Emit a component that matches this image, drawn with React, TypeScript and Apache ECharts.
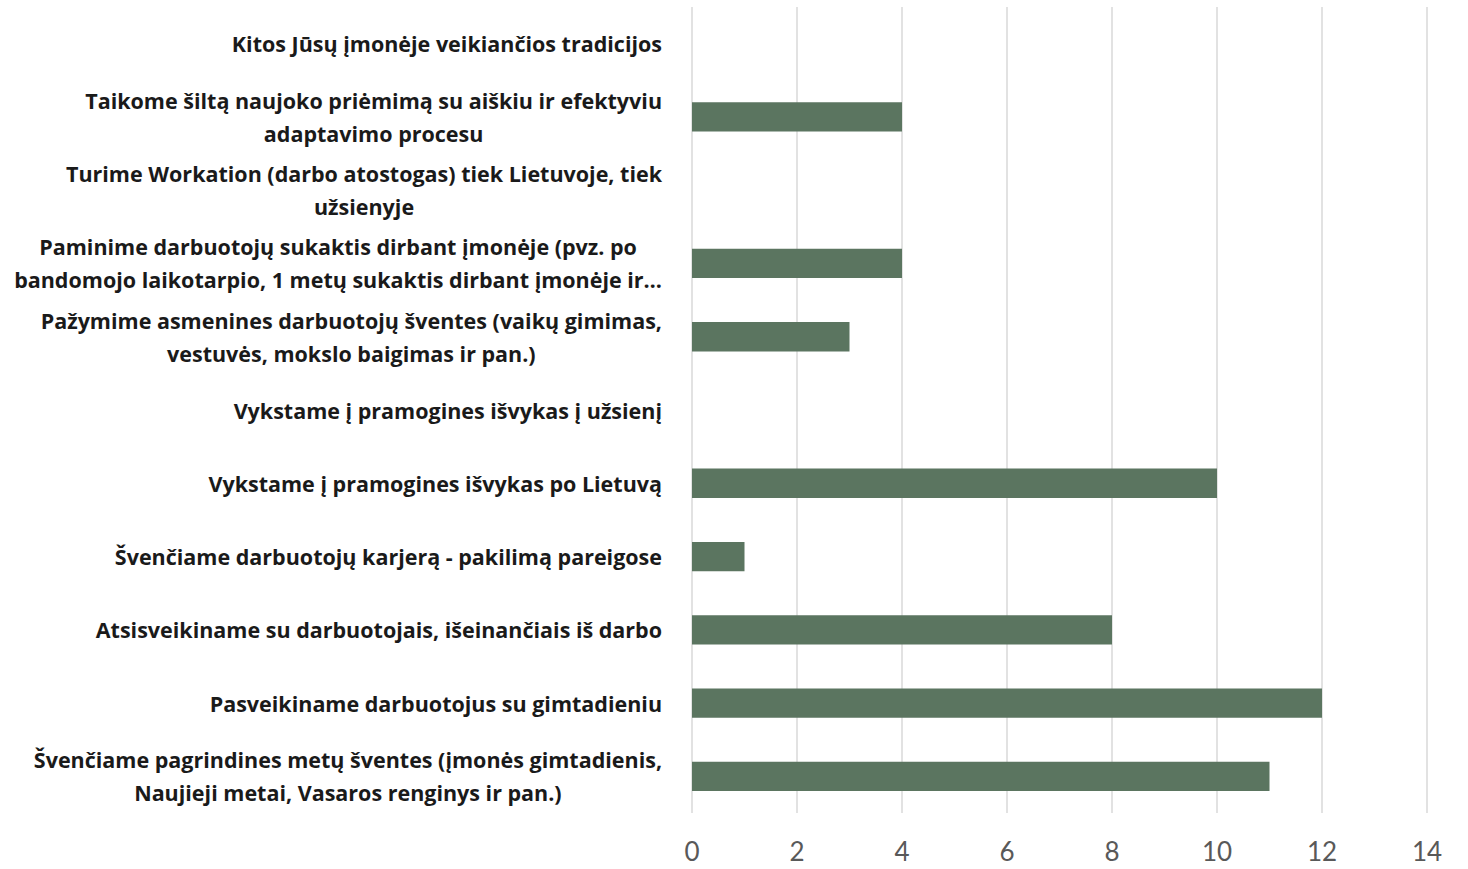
import React, { useEffect, useRef } from "react";
import * as echarts from "echarts";

const categories: string[] = [
  "Švenčiame pagrindines metų šventes (įmonės gimtadienis,\nNaujieji metai, Vasaros renginys ir pan.)",
  "Pasveikiname darbuotojus su gimtadieniu",
  "Atsisveikiname su darbuotojais, išeinančiais iš darbo",
  "Švenčiame darbuotojų karjerą - pakilimą pareigose",
  "Vykstame į pramogines išvykas po Lietuvą",
  "Vykstame į pramogines išvykas į užsienį",
  "Pažymime asmenines darbuotojų šventes (vaikų gimimas,\nvestuvės, mokslo baigimas ir pan.)",
  "Paminime darbuotojų sukaktis dirbant įmonėje (pvz. po\nbandomojo laikotarpio, 1 metų sukaktis dirbant įmonėje ir…",
  "Turime Workation (darbo atostogas) tiek Lietuvoje, tiek\nužsienyje",
  "Taikome šiltą naujoko priėmimą su aiškiu ir efektyviu\nadaptavimo procesu",
  "Kitos Jūsų įmonėje veikiančios tradicijos",
];

const values: number[] = [11, 12, 8, 1, 10, 0, 3, 4, 0, 4, 0];

const xMin = 0;
const xMax = 14;
const xInterval = 2;

export default function App() {
  const ref = useRef<HTMLDivElement>(null);
  useEffect(() => {
    document.body.style.margin = "0";
    if (!ref.current) return;
    const chart = echarts.init(ref.current, undefined, { renderer: "svg" });
    chart.setOption({
      animation: false,
      backgroundColor: "#ffffff",
      grid: { left: 692, right: 41, top: 7, bottom: 56, containLabel: false },
      xAxis: {
        type: "value",
        min: xMin,
        max: xMax,
        interval: xInterval,
        axisLine: { show: false },
        axisTick: { show: false },
        splitLine: { show: true, lineStyle: { color: "#d9d9d9", width: 1.5 } },
        axisLabel: {
          color: "#595959",
          fontSize: 26,
          lineHeight: 26,
          fontFamily: "Lato",
          margin: 25,
        },
      },
      yAxis: {
        type: "category",
        data: categories,
        axisLine: { show: false },
        axisTick: { show: false },
        axisLabel: {
          margin: 30,
          interval: 0,
          formatter: (v: string) =>
            v
              .split("\n")
              .map((l) => `{c|${l}}`)
              .join("\n"),
          rich: {
            c: {
              align: "center",
              fontFamily: "Open Sans",
              fontWeight: "bold",
              fontSize: 21.5,
              color: "#1a1a1a",
              lineHeight: 33,
            },
          },
        },
      },
      series: [
        {
          type: "bar",
          data: values,
          barWidth: "40%",
          itemStyle: { color: "#5b7560" },
        },
      ],
    });
    return () => chart.dispose();
  }, []);
  return <div ref={ref} style={{ width: 1468, height: 869 }} />;
}
